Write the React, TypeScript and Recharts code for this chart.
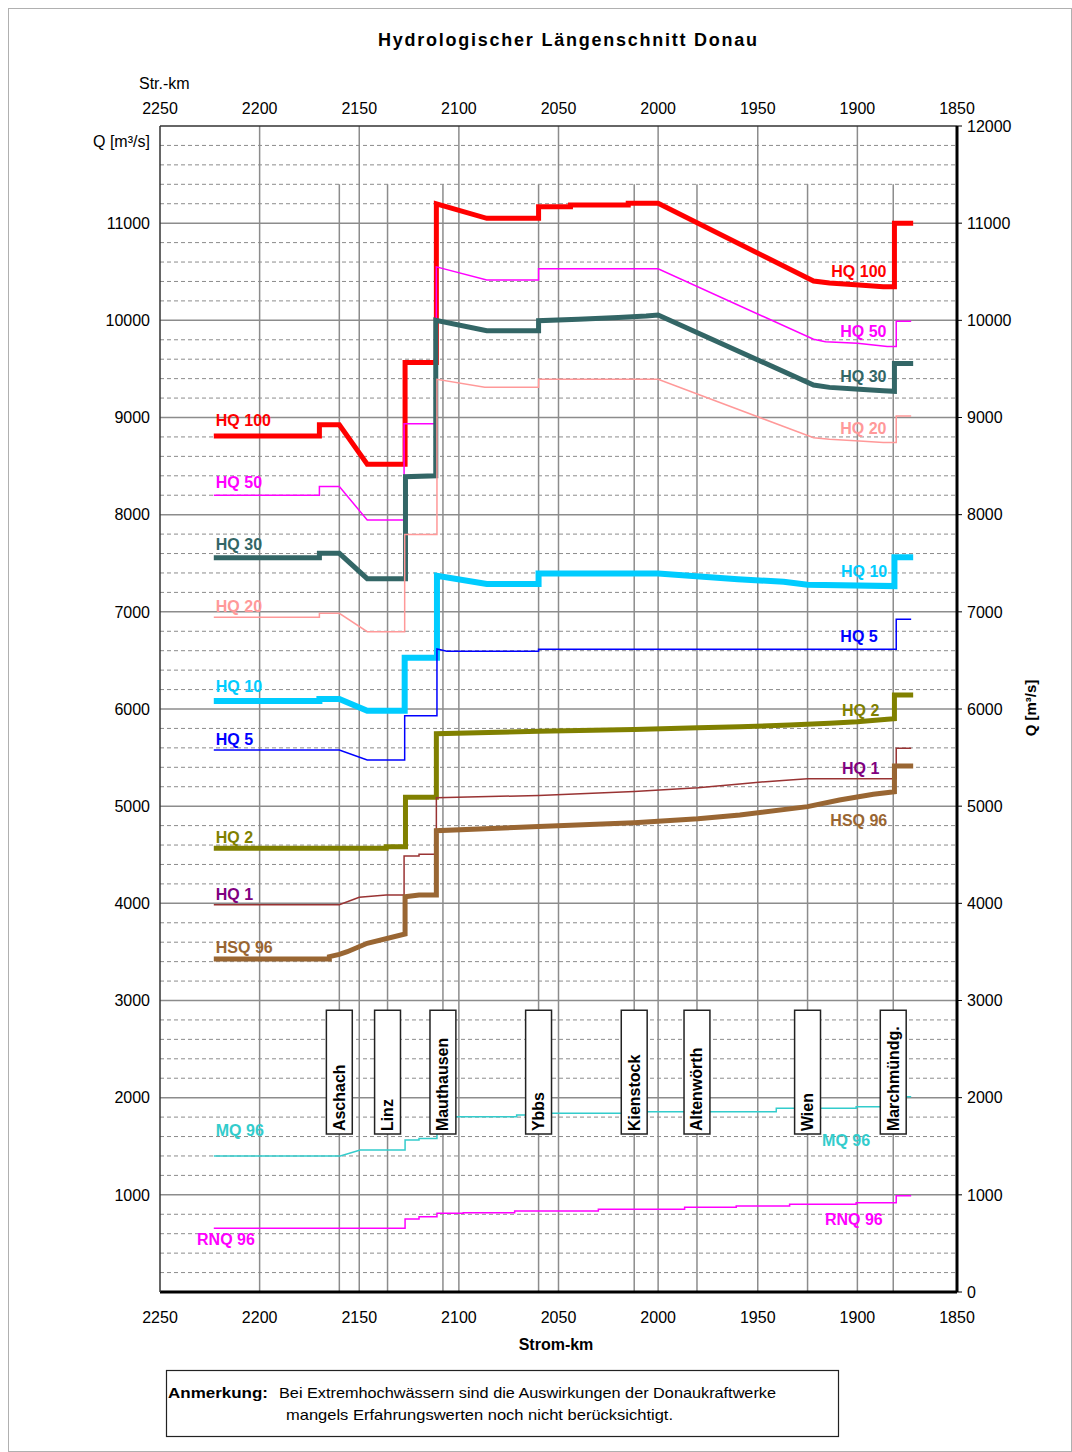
import React from 'react';
import { LineChart, Line, XAxis, YAxis, ReferenceLine, ReferenceArea, ReferenceDot } from 'recharts';

type P = [number, number];

// ---- axis ticks / grid ----
const kmTicks = [2250, 2200, 2150, 2100, 2050, 2000, 1950, 1900, 1850];
const kmGrid = [2200, 2150, 2100, 2050, 2000, 1950, 1900];
const qTicksLeft = [1000, 2000, 3000, 4000, 5000, 6000, 7000, 8000, 9000, 10000, 11000];
const qTicksRight = [0, 1000, 2000, 3000, 4000, 5000, 6000, 7000, 8000, 9000, 10000, 11000, 12000];
const qMajorGrid = [1000, 2000, 3000, 4000, 5000, 6000, 7000, 8000, 9000, 10000, 11000];
const qMinorGrid = [
  200, 400, 600, 800, 1200, 1400, 1600, 1800, 2200, 2400, 2600, 2800,
  3200, 3400, 3600, 3800, 4200, 4400, 4600, 4800, 5200, 5400, 5600, 5800,
  6200, 6400, 6600, 6800, 7200, 7400, 7600, 7800, 8200, 8400, 8600, 8800,
  9200, 9400, 9600, 9800, 10200, 10400, 10600, 10800, 11200, 11400, 11600, 11800,
];

// ---- stations ----
const stationNames = ['Aschach', 'Linz', 'Mauthausen', 'Ybbs', 'Kienstock', 'Altenwörth', 'Wien', 'Marchmündg.'];
const stationKm = [2160, 2135.8, 2108, 2060, 2012, 1980.5, 1925, 1882];

// ---- series (Strom-km, Q m³/s) ----
const hq100: P[] = [
  [2223, 8810], [2170, 8810], [2170, 8925], [2160, 8925], [2146, 8520], [2127, 8520], [2127, 9565],
  [2111.3, 9565], [2111.3, 11200], [2086, 11050], [2060, 11050], [2060, 11170], [2044, 11170],
  [2044, 11186], [2015, 11186], [2015, 11204], [2000, 11204], [1922, 10405], [1914, 10385],
  [1901, 10365], [1887, 10345], [1881.4, 10345], [1881.4, 11000], [1872, 11000],
];
const hq50: P[] = [
  [2223, 8200], [2170, 8200], [2170, 8290], [2160, 8290], [2146, 7945], [2127.5, 7945], [2127.5, 8935],
  [2111.3, 8935], [2111.3, 10550], [2086, 10415], [2060, 10415], [2060, 10530], [2000, 10530],
  [1922, 9805], [1916, 9780], [1900, 9765], [1885, 9730], [1880.5, 9730], [1880.5, 9990], [1873, 9990],
];
const hq30: P[] = [
  [2223, 7557], [2170, 7557], [2170, 7602], [2160, 7602], [2146, 7341], [2126.8, 7341], [2126.8, 8390],
  [2111.6, 8400], [2111.6, 10000], [2086, 9893], [2060, 9893], [2060, 9996], [2040, 10010],
  [2020, 10030], [2006, 10044], [2000, 10055], [1922, 9334], [1914, 9310], [1901, 9293],
  [1887, 9276], [1881.4, 9270], [1881.4, 9557], [1872, 9557],
];
const hq20: P[] = [
  [2223, 6943], [2170, 6943], [2170, 6985], [2160, 6985], [2146, 6796], [2127.2, 6796], [2127.2, 7797],
  [2111, 7797], [2111, 9393], [2087, 9311], [2060, 9311], [2060, 9393], [2000, 9393],
  [1922, 8792], [1914, 8775], [1901, 8761], [1887, 8744], [1880.5, 8744], [1880.5, 9015], [1873, 9015],
];
const hq10: P[] = [
  [2223, 6082], [2170, 6082], [2170, 6103], [2160, 6103], [2146, 5982], [2127.2, 5982], [2127.2, 6528],
  [2111, 6528], [2111, 7372], [2086, 7286], [2060, 7286], [2060, 7395], [2000, 7395],
  [1960, 7335], [1937, 7310], [1925, 7278], [1881.4, 7265], [1881.4, 7561], [1872, 7561],
];
const hq5: P[] = [
  [2223, 5578], [2160, 5578], [2146, 5475], [2127.2, 5475], [2127.2, 5931], [2111, 5931], [2111, 6617],
  [2106, 6595], [2060, 6595], [2060, 6614], [1880.5, 6614], [1880.5, 6923], [1873, 6923],
];
const hq2: P[] = [
  [2223, 4566], [2136.5, 4566], [2136.5, 4583], [2126.8, 4583], [2126.8, 5091], [2111.3, 5091],
  [2111.3, 5745], [2060, 5770], [2012, 5790], [1980, 5808], [1959, 5818], [1934, 5835],
  [1914, 5853], [1900, 5869], [1885, 5894], [1881.4, 5900], [1881.4, 6144], [1872, 6144],
];
const hq1: P[] = [
  [2223, 3985], [2160, 3985], [2150, 4062], [2136.5, 4086], [2127.5, 4086], [2127.5, 4487],
  [2120, 4487], [2120, 4504], [2111.3, 4504], [2111.3, 5087], [2060, 5110], [2012, 5150],
  [1980, 5190], [1959, 5228], [1946, 5252], [1934, 5269], [1925, 5283], [1880.5, 5283],
  [1880.5, 5595], [1873, 5595],
];
const hsq96: P[] = [
  [2223, 3427], [2165, 3427], [2165, 3451], [2160, 3475], [2156, 3502], [2146, 3589], [2127, 3684],
  [2127, 4068], [2120, 4086], [2111.3, 4086], [2111.3, 4747], [2060, 4790], [2012, 4830],
  [1980, 4870], [1959, 4909], [1925, 4995], [1909, 5063], [1892, 5122], [1881.4, 5149],
  [1881.4, 5413], [1872, 5413],
];
const mq96: P[] = [
  [2223, 1400], [2159.5, 1400], [2149.5, 1461], [2127, 1461], [2127, 1564], [2120, 1564], [2120, 1581],
  [2111, 1581], [2111, 1804], [2071, 1804], [2071, 1821], [2055, 1821], [2055, 1839], [2012, 1839],
  [2012, 1856], [1940.7, 1856], [1940.7, 1891], [1900.6, 1891], [1900.6, 1907], [1880.5, 1907],
  [1880.5, 2010], [1873, 2010],
];
const rnq96: P[] = [
  [2223, 655], [2127, 655], [2127, 751], [2120, 751], [2120, 775], [2111, 775], [2111, 810],
  [2097.8, 810], [2097.8, 816], [2072, 816], [2072, 834], [2030, 834], [2030, 851], [1986.7, 851],
  [1986.7, 872], [1960.8, 872], [1960.8, 885], [1934, 885], [1934, 903], [1900.6, 903], [1900.6, 919],
  [1880.5, 919], [1880.5, 991], [1873, 991],
];

// ---- label anchors (km, Q) ----
const leftLabelPos: P[] = [
  [2222, 8964], [2222, 8326], [2222, 7695], [2222, 7053], [2222, 6229], [2222, 5681],
  [2222, 4679], [2222, 4096], [2222, 3547], [2222, 1657], [2231.4, 545],
];
const rightLabelPos: P[] = [
  [1885.4, 10500], [1885.4, 9883], [1885.4, 9427], [1885.4, 8889], [1885, 7413], [1889.8, 6751],
  [1889, 5989], [1889, 5390], [1885, 4850], [1893.6, 1564], [1887.3, 741],
];

const series = [
  { name: 'HQ 100', data: hq100, color: '#FF0000', label: '#FF0000', width: 5 },
  { name: 'HQ 50', data: hq50, color: '#FF00FF', label: '#FF00FF', width: 1.5 },
  { name: 'HQ 30', data: hq30, color: '#336666', label: '#336666', width: 5 },
  { name: 'HQ 20', data: hq20, color: '#FF9999', label: '#FF9999', width: 1.5 },
  { name: 'HQ 10', data: hq10, color: '#00CCFF', label: '#00CCFF', width: 6 },
  { name: 'HQ 5', data: hq5, color: '#0000FF', label: '#0000FF', width: 1.5 },
  { name: 'HQ 2', data: hq2, color: '#808000', label: '#808000', width: 5 },
  { name: 'HQ 1', data: hq1, color: '#993333', label: '#800080', width: 1.5 },
  { name: 'HSQ 96', data: hsq96, color: '#996633', label: '#996633', width: 5 },
  { name: 'MQ 96', data: mq96, color: '#33CCCC', label: '#33CCCC', width: 1.5 },
  { name: 'RNQ 96', data: rnq96, color: '#FF00FF', label: '#FF00FF', width: 1.5 },
];

const FONT = '"Liberation Sans", Arial, sans-serif';
const GRID = '#8c8c8c';

const toPts = (arr: P[]) => arr.map(([km, q]) => ({ km, q }));

function SeriesText({ viewBox, text, color, anchor }: any) {
  if (!viewBox) return null;
  const x = viewBox.x + (viewBox.width || 0) / 2;
  const y = viewBox.y + (viewBox.height || 0) / 2;
  return (
    <text x={x} y={y} fill={color} fontSize={16} fontWeight="bold" fontFamily={FONT}
      textAnchor={anchor} dominantBaseline="central">{text}</text>
  );
}

function StationText({ viewBox, name }: any) {
  if (!viewBox) return null;
  const cx = viewBox.x + viewBox.width / 2;
  const by = viewBox.y + viewBox.height - 3;
  return (
    <text x={cx} y={by} transform={`rotate(-90, ${cx}, ${by})`} fill="#000" fontSize={16}
      fontWeight="bold" fontFamily={FONT} textAnchor="start" dominantBaseline="central">{name}</text>
  );
}

export default function App() {
  const ids = { xAxisId: 'b', yAxisId: 'l' };
  return (
    <div style={{ position: 'absolute', left: 0, top: 0, width: 1072, height: 1452, background: '#fff', fontFamily: FONT }}>
      <LineChart width={1072} height={1452} margin={{ top: 96, right: 55, bottom: 130, left: 100 }}
        style={{ position: 'absolute', left: 0, top: 0 }}>
        <XAxis xAxisId="b" type="number" dataKey="km" domain={[1850, 2250]} reversed allowDataOverflow
          ticks={kmTicks} interval={0} height={30} tickSize={0} tickMargin={20}
          axisLine={{ stroke: '#000', strokeWidth: 3 }} tickLine={false}
          tick={{ fontSize: 16, fill: '#000', fontFamily: FONT }} />
        <XAxis xAxisId="t" orientation="top" type="number" dataKey="km" domain={[1850, 2250]} reversed allowDataOverflow
          ticks={kmTicks} interval={0} height={30} tickSize={0} tickMargin={12}
          axisLine={{ stroke: '#333', strokeWidth: 1.5 }} tickLine={false}
          tick={{ fontSize: 16, fill: '#000', fontFamily: FONT }} />
        <YAxis yAxisId="l" type="number" domain={[0, 12000]} allowDataOverflow ticks={qTicksLeft} interval={0}
          width={60} tickSize={0} tickMargin={10} axisLine={{ stroke: '#333', strokeWidth: 1.5 }} tickLine={false}
          tick={{ fontSize: 16, fill: '#000', fontFamily: FONT }} />
        <YAxis yAxisId="r" orientation="right" type="number" domain={[0, 12000]} allowDataOverflow ticks={qTicksRight}
          interval={0} width={60} tickSize={5} tickMargin={5} axisLine={{ stroke: '#000', strokeWidth: 3 }}
          tickLine={{ stroke: '#000', strokeWidth: 1 }} tick={{ fontSize: 16, fill: '#000', fontFamily: FONT }} />

        {qMinorGrid.map((v) => (
          <ReferenceLine key={`mn${v}`} {...ids} y={v} stroke={GRID} strokeWidth={1} strokeDasharray="4 3" zIndex={-60} />
        ))}
        {qMajorGrid.map((v) => (
          <ReferenceLine key={`mj${v}`} {...ids} y={v} stroke={GRID} strokeWidth={1.5} zIndex={-55} />
        ))}
        {kmGrid.map((v) => (
          <ReferenceLine key={`kg${v}`} {...ids} x={v} stroke={GRID} strokeWidth={1.5} zIndex={-55} />
        ))}
        {stationKm.map((km, i) => (
          <ReferenceLine key={`st${i}`} {...ids} segment={[{ x: km, y: 0 }, { x: km, y: 11400 }]}
            stroke={GRID} strokeWidth={1.5} zIndex={-50} />
        ))}

        {series.map((s) => (
          <Line key={s.name} {...ids} data={toPts(s.data)} dataKey="q" name={s.name} type="linear"
            stroke={s.color} strokeWidth={s.width} dot={false} activeDot={false} isAnimationActive={false} />
        ))}

        {stationKm.map((km, i) => (
          <ReferenceArea key={`box${i}`} {...ids} x1={km + 6.5} x2={km - 6.5} y1={1625} y2={2900}
            fill="#fff" fillOpacity={1} stroke="#222" strokeWidth={1.5} zIndex={1500}
            label={(p: any) => <StationText viewBox={p.viewBox} name={stationNames[i]} />} />
        ))}

        {series.map((s, i) => (
          <ReferenceDot key={`ll${i}`} {...ids} x={leftLabelPos[i][0]} y={leftLabelPos[i][1]} r={0}
            fill="none" stroke="none" zIndex={2000}
            label={(p: any) => <SeriesText viewBox={p.viewBox} text={s.name} color={s.label} anchor="start" />} />
        ))}
        {series.map((s, i) => (
          <ReferenceDot key={`rl${i}`} {...ids} x={rightLabelPos[i][0]} y={rightLabelPos[i][1]} r={0}
            fill="none" stroke="none" zIndex={2000}
            label={(p: any) => <SeriesText viewBox={p.viewBox} text={s.name} color={s.label} anchor="end" />} />
        ))}
      </LineChart>

      <svg width={1072} height={1452} style={{ position: 'absolute', left: 0, top: 0, pointerEvents: 'none' }}>
        <rect x={8.5} y={8.5} width={1063} height={1443} fill="none" stroke="#b0b0b0" strokeWidth={1} />
        <text x={567.5} y={40} textAnchor="middle" dominantBaseline="central" fontFamily={FONT} fontSize={18}
          fontWeight="bold" textLength={379} lengthAdjust="spacing">Hydrologischer Längenschnitt Donau</text>
        <text x={139} y={83} dominantBaseline="central" fontFamily={FONT} fontSize={16}>Str.-km</text>
        <text x={93} y={141} dominantBaseline="central" fontFamily={FONT} fontSize={16}>Q [m³/s]</text>
        <text x={556} y={1344} textAnchor="middle" dominantBaseline="central" fontFamily={FONT} fontSize={16}
          fontWeight="bold">Strom-km</text>
        <text x={1030} y={708} textAnchor="middle" dominantBaseline="central" fontFamily={FONT} fontSize={15}
          fontWeight="bold" transform="rotate(-90, 1030, 708)">Q [m³/s]</text>
        <rect x={166.5} y={1370.5} width={672} height={66} fill="#fff" stroke="#222" strokeWidth={1.2} />
        <text x={168} y={1392} dominantBaseline="central" fontFamily={FONT} fontSize={15} fontWeight="bold"
          textLength={100} lengthAdjust="spacingAndGlyphs">Anmerkung:</text>
        <text x={279} y={1392} dominantBaseline="central" fontFamily={FONT} fontSize={15}
          textLength={497} lengthAdjust="spacingAndGlyphs">Bei Extremhochwässern sind die Auswirkungen der Donaukraftwerke</text>
        <text x={286} y={1414} dominantBaseline="central" fontFamily={FONT} fontSize={15}
          textLength={387} lengthAdjust="spacingAndGlyphs">mangels Erfahrungswerten noch nicht berücksichtigt.</text>
      </svg>
    </div>
  );
}
